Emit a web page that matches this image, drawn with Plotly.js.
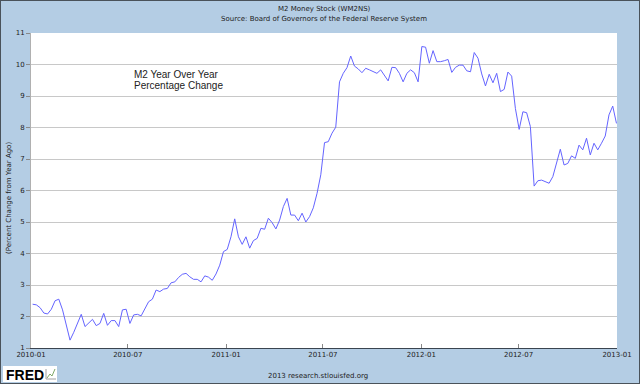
<!DOCTYPE html>
<html>
<head>
<meta charset="utf-8">
<script src="https://cdn.plot.ly/plotly-3.0.1.min.js"></script>
<style>
html,body{margin:0;padding:0;background:#B4CDE4;}
#wrap{position:relative;width:640px;height:384px;}
#chart{width:640px;height:384px;}
#frame{position:absolute;left:0;top:0;width:640px;height:384px;box-sizing:border-box;border:1px solid #4a525a;pointer-events:none;}
</style>
</head>
<body>
<div id="wrap"><div id="chart"></div><div id="frame"></div></div>
<script>
// Weekly observations (week ending Monday), percent change from year ago
const dates = [
"2010-01-04","2010-01-11","2010-01-18","2010-01-25","2010-02-01","2010-02-08","2010-02-15","2010-02-22",
"2010-03-01","2010-03-08","2010-03-15","2010-03-22","2010-03-29","2010-04-05","2010-04-12","2010-04-19","2010-04-26",
"2010-05-03","2010-05-10","2010-05-17","2010-05-24","2010-05-31","2010-06-07","2010-06-14","2010-06-21","2010-06-28",
"2010-07-05","2010-07-12","2010-07-19","2010-07-26","2010-08-02","2010-08-09","2010-08-16","2010-08-23","2010-08-30",
"2010-09-06","2010-09-13","2010-09-20","2010-09-27","2010-10-04","2010-10-11","2010-10-18","2010-10-25",
"2010-11-01","2010-11-08","2010-11-15","2010-11-22","2010-11-29","2010-12-06","2010-12-13","2010-12-20","2010-12-27",
"2011-01-03","2011-01-10","2011-01-17","2011-01-24","2011-01-31","2011-02-07","2011-02-14","2011-02-21","2011-02-28",
"2011-03-07","2011-03-14","2011-03-21","2011-03-28","2011-04-04","2011-04-11","2011-04-18","2011-04-25",
"2011-05-02","2011-05-09","2011-05-16","2011-05-23","2011-05-30","2011-06-06","2011-06-13","2011-06-20","2011-06-27",
"2011-07-04","2011-07-11","2011-07-18","2011-07-25","2011-08-01","2011-08-08","2011-08-15","2011-08-22","2011-08-29",
"2011-09-05","2011-09-12","2011-09-19","2011-09-26","2011-10-03","2011-10-10","2011-10-17","2011-10-24","2011-10-31",
"2011-11-07","2011-11-14","2011-11-21","2011-11-28","2011-12-05","2011-12-12","2011-12-19","2011-12-26",
"2012-01-02","2012-01-09","2012-01-16","2012-01-23","2012-01-30","2012-02-06","2012-02-13","2012-02-20","2012-02-27",
"2012-03-05","2012-03-12","2012-03-19","2012-03-26","2012-04-02","2012-04-09","2012-04-16","2012-04-23","2012-04-30",
"2012-05-07","2012-05-14","2012-05-21","2012-05-28","2012-06-04","2012-06-11","2012-06-18","2012-06-25",
"2012-07-02","2012-07-09","2012-07-16","2012-07-23","2012-07-30","2012-08-06","2012-08-13","2012-08-20","2012-08-27",
"2012-09-03","2012-09-10","2012-09-17","2012-09-24","2012-10-01","2012-10-08","2012-10-15","2012-10-22","2012-10-29",
"2012-11-05","2012-11-12","2012-11-19","2012-11-26","2012-12-03","2012-12-10","2012-12-17","2012-12-24","2012-12-31"
];
const m2yoy = [
2.39,2.37,2.28,2.11,2.08,2.23,2.50,2.55,
2.21,1.70,1.25,1.50,1.78,2.07,1.68,1.78,1.91,
1.71,1.78,2.10,1.72,1.87,1.87,1.68,2.21,2.23,
1.78,2.05,2.07,2.02,2.26,2.47,2.55,2.84,2.79,
2.87,2.89,3.07,3.10,3.24,3.34,3.37,3.26,
3.18,3.18,3.10,3.29,3.25,3.15,3.35,3.63,4.06,
4.13,4.53,5.10,4.53,4.29,4.53,4.17,4.41,4.48,
4.80,4.77,5.12,4.98,4.78,5.06,5.49,5.75,
5.22,5.22,5.04,5.28,5.00,5.17,5.45,5.91,6.50,
7.52,7.55,7.82,8.01,9.45,9.72,9.90,10.27,9.95,
9.86,9.74,9.88,9.83,9.77,9.72,9.83,9.67,9.48,
9.91,9.90,9.72,9.45,9.72,9.83,9.74,9.45,
10.57,10.55,10.04,10.44,10.09,10.09,10.12,10.16,9.75,
9.91,9.98,9.98,9.80,9.77,10.38,10.20,9.70,9.32,
9.69,9.42,9.72,9.14,9.21,9.76,9.63,8.60,
7.94,8.50,8.47,8.03,6.14,6.31,6.33,6.28,6.23,
6.44,6.86,7.31,6.81,6.86,7.10,7.02,7.44,7.29,
7.66,7.13,7.50,7.29,7.50,7.73,8.40,8.68,8.13
];
const xTickVals = ["2010-01-01","2010-07-01","2011-01-01","2011-07-01","2012-01-01","2012-07-01","2013-01-01"];
const xTickText = ["2010-01","2010-07","2011-01","2011-07","2012-01","2012-07","2013-01"];
const yTickVals = [1,2,3,4,5,6,7,8,9,10,11];

const font = "DejaVu Sans, sans-serif";
// pixel helpers for decorations outside the plot area (plot: x 31..617, y 33..348)
const px = v => (v - 31) / 586;
const py = v => (348 - v) / 315;

const trace = {
  x: dates, y: m2yoy, type: "scatter", mode: "lines",
  line: {color: "rgb(100,100,255)", width: 1}, hoverinfo: "skip"
};
const layout = {
  width: 640, height: 384,
  margin: {l: 31, r: 23, t: 33, b: 36, pad: 0},
  paper_bgcolor: "#B4CDE4", plot_bgcolor: "#FFFFFF",
  showlegend: false,
  font: {family: font, size: 7, color: "#222"},
  xaxis: {
    type: "date", range: ["2010-01-01","2013-01-01"],
    tickvals: xTickVals, ticktext: xTickText,
    ticks: "inside", ticklen: 4, tickcolor: "#888", tickwidth: 1,
    showgrid: false, zeroline: false,
    showline: true, linecolor: "#3a4450", linewidth: 1,
    tickfont: {family: font, size: 7, color: "#222"}
  },
  yaxis: {
    range: [1, 11], tickvals: yTickVals,
    ticks: "outside", ticklen: 4, tickcolor: "#888", tickwidth: 1,
    showgrid: true, gridcolor: "#C8C8C8", gridwidth: 1, zeroline: false,
    showline: true, linecolor: "#B0B0B0", linewidth: 1,
    tickfont: {family: font, size: 7, color: "#222"}
  },
  shapes: [
    {type: "rect", xref: "paper", yref: "paper", x0: px(3), x1: px(57), y0: py(382), y1: py(366),
     fillcolor: "#FFFFFF", line: {width: 0}, layer: "above"},
    {type: "path", xref: "paper", yref: "paper", layer: "above",
     path: "M " + px(47) + "," + py(378) + " L " + px(50) + "," + py(374) + " L " + px(52) + "," + py(376) + " L " + px(55) + "," + py(369),
     line: {color: "#7FA86A", width: 1}},
    {type: "path", xref: "paper", yref: "paper", layer: "above",
     path: "M " + px(46) + "," + py(369) + " L " + px(46) + "," + py(379) + " L " + px(56) + "," + py(379),
     line: {color: "#A0A0A0", width: 1}}
  ],
  annotations: [
    {text: "M2 Money Stock (WM2NS)", xref: "paper", yref: "paper", x: 0.5, y: py(8.6),
     xanchor: "center", yanchor: "middle", showarrow: false, font: {family: font, size: 7, color: "#222"}},
    {text: "Source: Board of Governors of the Federal Reserve System", xref: "paper", yref: "paper", x: 0.5, y: py(19.2),
     xanchor: "center", yanchor: "middle", showarrow: false, font: {family: font, size: 7, color: "#222"}},
    {text: "(Percent Change from Year Ago)", xref: "paper", yref: "paper", x: px(8.5), y: py(198.5),
     textangle: -90, xanchor: "center", yanchor: "middle", showarrow: false, font: {family: font, size: 7, color: "#222"}},
    {text: "M2 Year Over Year", xref: "paper", yref: "paper", x: px(131.7), y: py(74.3),
     xanchor: "left", yanchor: "middle", showarrow: false, font: {family: "Liberation Sans, Arial, sans-serif", size: 10, color: "#222"}},
    {text: "Percentage Change", xref: "paper", yref: "paper", x: px(131.7), y: py(85.7),
     xanchor: "left", yanchor: "middle", showarrow: false, font: {family: "Liberation Sans, Arial, sans-serif", size: 10, color: "#222"}},
    {text: "<b>FRED</b>", xref: "paper", yref: "paper", x: px(4), y: py(374.5),
     xanchor: "left", yanchor: "middle", showarrow: false,
     font: {family: "Liberation Sans, Arial, sans-serif", size: 14, color: "#000"}},
    {text: "2013 research.stlouisfed.org", xref: "paper", yref: "paper", x: px(318), y: py(376),
     xanchor: "center", yanchor: "middle", showarrow: false, font: {family: font, size: 7, color: "#222"}}
  ]
};
Plotly.newPlot("chart", [trace], layout, {staticPlot: true, displayModeBar: false});
</script>
</body>
</html>
